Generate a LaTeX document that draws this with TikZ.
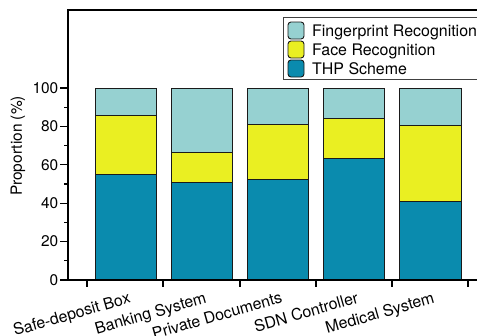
\documentclass[tikz,border=0pt]{standalone}
\usepackage{fontspec}
\setmainfont{TeX Gyre Heros}
\definecolor{fpcol}{HTML}{96D1D1}
\definecolor{facecol}{HTML}{EAEF22}
\definecolor{thpcol}{HTML}{0A8BAE}
\definecolor{edgecol}{HTML}{1A1A1A}
\begin{document}
\begin{tikzpicture}[x=1bp,y=1bp,
  font=\fontsize{15.5}{18}\selectfont,
  axisline/.style={line width=1.3bp,black},
  barbox/.style={draw=edgecol,line width=0.9bp},
  swatch/.style={draw=edgecol,line width=0.9bp,rounded corners=3bp},
  ticklabel/.style={anchor=east,inner sep=0pt},
  catlabel/.style={anchor=north east,inner sep=0pt,rotate=16,font=\fontsize{16}{18}\selectfont},
  legtext/.style={anchor=base west,inner sep=0pt,font=\fontsize{16}{18}\selectfont}]
\useasboundingbox (0,0) rectangle (477,335);
\clip (0,0) rectangle (477,335);

% stacked bars: left, right, top of THP part, top of face part (percent)
\foreach \xl/\xr/\a/\b in {95/156/55.2/85.9, 171/232/50.7/66.5, 247/308/52.6/81.1,
                            323/384/63.4/83.9, 399/461/41.1/80.6}{
  \draw[barbox,fill=thpcol]  (\xl,55) rectangle (\xr,{55+1.92*\a});
  \draw[barbox,fill=facecol] (\xl,{55+1.92*\a}) rectangle (\xr,{55+1.92*\b});
  \draw[barbox,fill=fpcol]   (\xl,{55+1.92*\b}) rectangle (\xr,{55+192});
}

% axes frame
\draw[axisline] (477,325) -- (68,325) -- (68,55) -- (477,55);

% y ticks and labels
\foreach \v in {0,20,...,100}{
  \draw[axisline] (60,{55+1.92*\v}) -- (68,{55+1.92*\v});
  \node[ticklabel] (yl\v) at (58.5,{55+1.92*\v}) {\v};
}
\foreach \v in {10,30,...,90}
  \draw[axisline] (64,{55+1.92*\v}) -- (68,{55+1.92*\v});

% x ticks
\foreach \x in {87,163,240,316,392,468}
  \draw[axisline] (\x,55) -- (\x,48);

% category labels
\node[catlabel] (c1) at (128,44) {Safe-deposit Box};
\node[catlabel] (c2) at (204,44) {Banking System};
\node[catlabel] (c3) at (280,44) {Private Documents};
\node[catlabel] (c4) at (356,44) {SDN Controller};
\node[catlabel] (c5) at (432,44) {Medical System};

% y axis title
\node[rotate=90] (ytitle) at (18,189) {Proportion (\%)};

% legend
\draw[line width=0.9bp,draw=black!75,fill=white] (283,256) rectangle (485,318);
\draw[swatch,fill=fpcol]   (288,296) rectangle (304,313);
\draw[swatch,fill=facecol] (288,277) rectangle (304,294);
\draw[swatch,fill=thpcol]  (288,258) rectangle (304,275);
\node[legtext] (l1) at (312,299) {Fingerprint Recognition};
\node[legtext] (l2) at (312,280) {Face Recognition};
\node[legtext] (l3) at (312,261) {THP Scheme};
\end{tikzpicture}
\end{document}
